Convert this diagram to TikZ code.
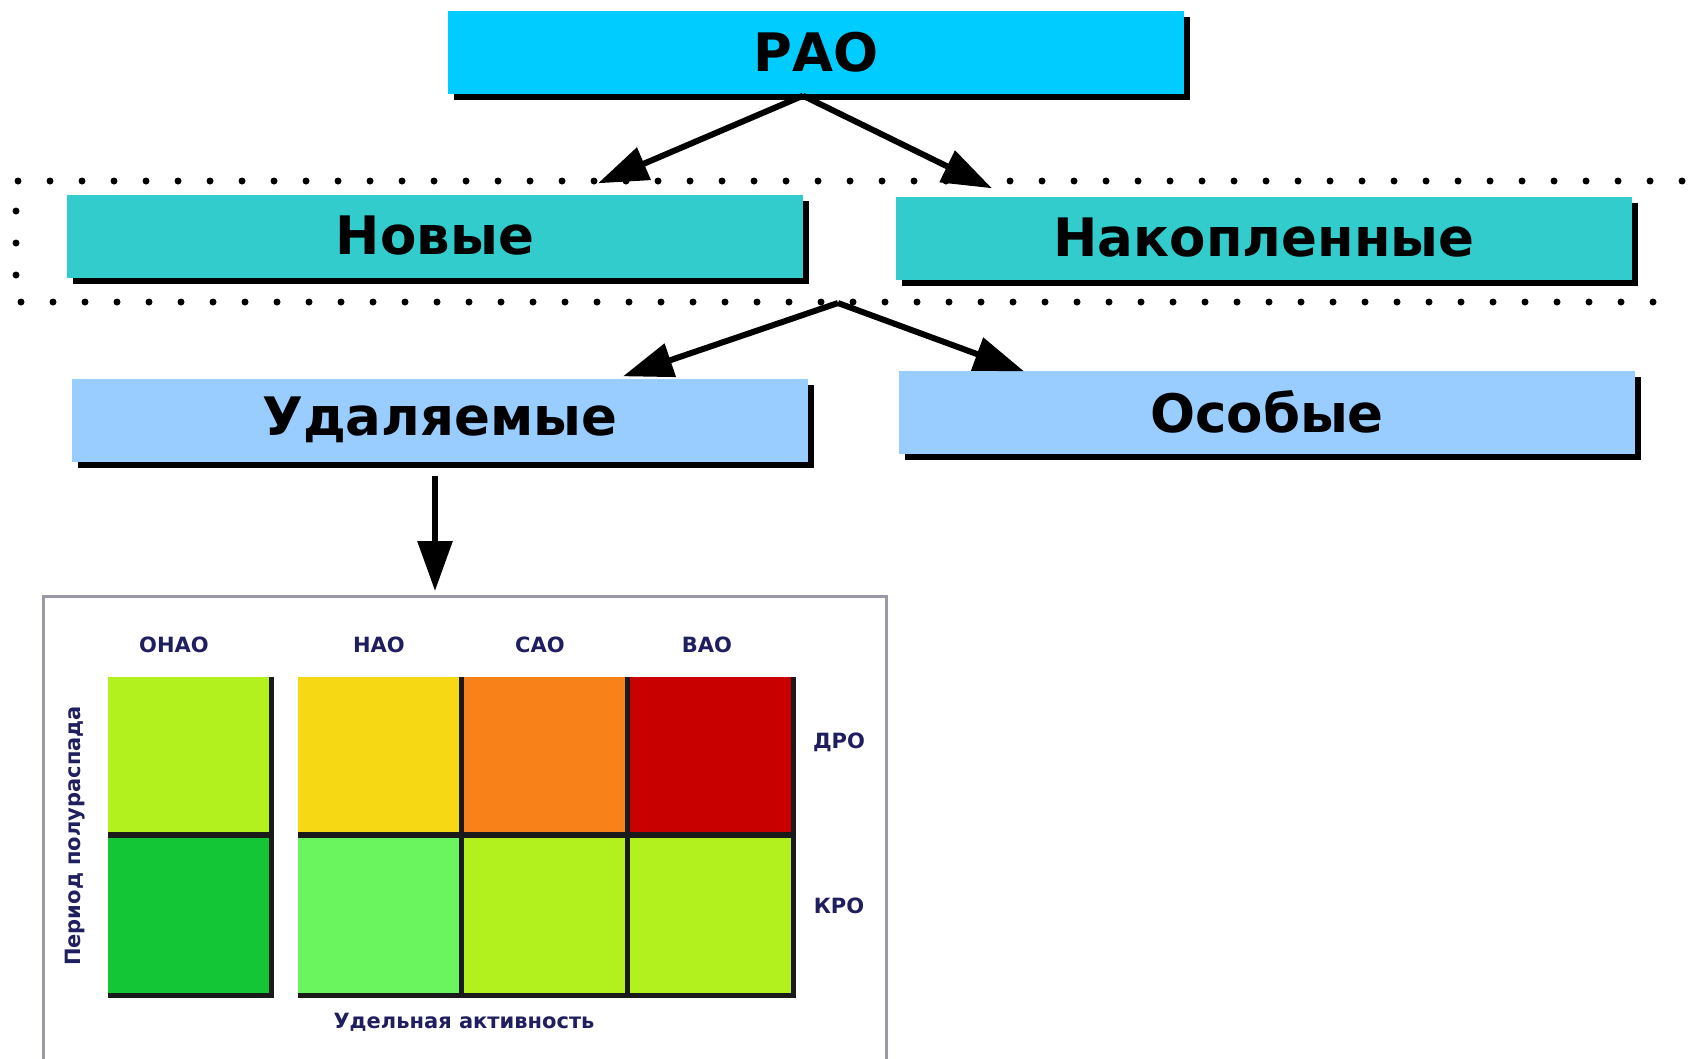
\documentclass[tikz,border=0pt]{standalone}
\usepackage{fontspec}
\setmainfont{DejaVu Sans}
\usepackage{xcolor}
\usetikzlibrary{arrows.meta,calc,positioning,shadows}
\definecolor{raoblue}{HTML}{00CCFF}
\definecolor{groupteal}{HTML}{33CCCC}
\definecolor{kindblue}{HTML}{99CCFF}
\definecolor{labelnavy}{HTML}{1F1F5F}
\definecolor{framegray}{HTML}{9A9AA6}
\definecolor{cellshade}{HTML}{1A1A1A}
\definecolor{celllime}{HTML}{B2F01E}
\definecolor{cellyellow}{HTML}{F6D815}
\definecolor{cellorange}{HTML}{F98119}
\definecolor{cellred}{HTML}{C80000}
\definecolor{cellgreen}{HTML}{13C636}
\definecolor{celllight}{HTML}{6AF45E}

\begin{document}
\begin{tikzpicture}[x=1pt,y=-1pt,>={Triangle[length=50pt,width=34pt]},font=\fontsize{53}{60}\selectfont\bfseries]
\tikzset{box/.style={fill=#1,minimum width=736pt,minimum height=83pt,inner sep=0pt,drop shadow={shadow xshift=6pt,shadow yshift=-6pt,opacity=1,fill=black}}}
\tikzset{arr/.style={->,line width=6pt}}
\tikzset{cell/.style={fill=#1,minimum width=161pt,minimum height=155pt,inner sep=0pt}}
\tikzset{tag/.style={font=\fontsize{21}{24}\selectfont\bfseries,text=labelnavy,inner sep=0pt}}
\useasboundingbox (0,0) rectangle (1691,1058);
\draw[line width=7pt,line cap=round,dash pattern=on 0pt off 32pt] (1682,181) -- (16,181) -- (16,302) -- (1682,302);
\node[box=raoblue] (rao) at (816,52) {РАО};
\node[box=groupteal] (new) at (435,236) {Новые};
\node[box=groupteal] (acc) at (1264,238) {Накопленные};
\node[box=kindblue] (del) at (440,420) {Удаляемые};
\node[box=kindblue] (spec) at (1267,412) {Особые};
\coordinate (split) at (838,303);
\coordinate (charttop) at (435,591);
\draw[arr] ($(rao.south)+(-13,2)$) -- ($(new.north)+(163,-11)$);
\draw[arr] ($(rao.south)+(-13,2)$) -- ($(acc.north)+(-272,-8)$);
\draw[arr] (split) -- ($(del.north)+(183,-2)$);
\draw[arr] (split) -- ($(spec.north)+(-243,1)$);
\draw[arr] ($(del.south)+(-5,14)$) -- (charttop);
\draw[framegray,line width=3pt] (43,1062) |- (886,596) -- (886,1062);
\fill[cellshade] (107.5,676.5) rectangle (273.5,998);
\fill[cellshade] (297.5,676.5) rectangle (795.5,998);
\node[cell=celllime] (c11) at (188,754) {};
\node[cell=cellyellow] (c12) at (378,754) {};
\node[cell=cellorange] (c13) at (544,754) {};
\node[cell=cellred] (c14) at (710,754) {};
\node[cell=cellgreen] (c21) at (188,915) {};
\node[cell=celllight] (c22) at (378,915) {};
\node[cell=celllime] (c23) at (544,915) {};
\node[cell=celllime] (c24) at (710,915) {};
\node[tag] (onao) at (174,645) {ОНАО};
\node[tag] (nao) at (379,645) {НАО};
\node[tag] (sao) at (540,645) {САО};
\node[tag] (vao) at (707,645) {ВАО};
\node[tag] (dro) at (839,742) {ДРО};
\node[tag] (kro) at (839,906) {КРО};
\node[tag] (activity) at (464,1022) {Удельная активность};
\node[tag,rotate=90] (halflife) at (75,836) {Период полураспада};
\end{tikzpicture}
\end{document}
